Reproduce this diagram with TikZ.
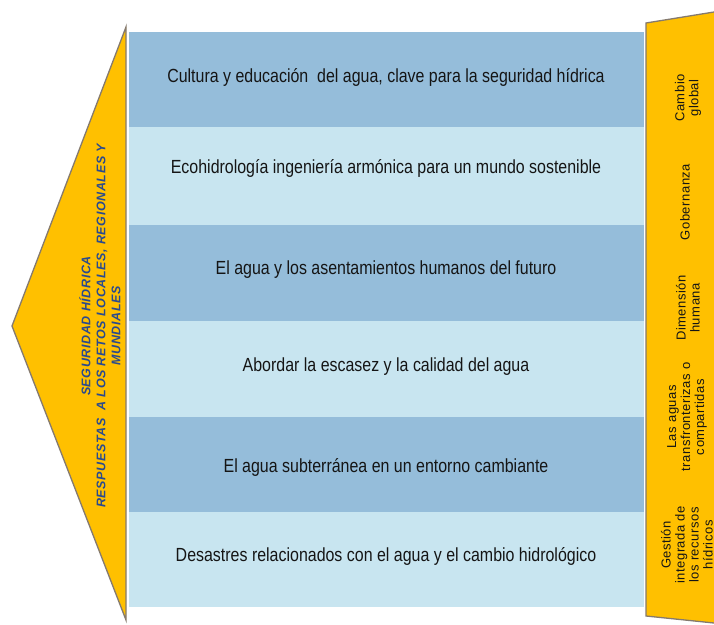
\documentclass[tikz,border=0pt]{standalone}
\usepackage{fontspec}
\setmainfont{Liberation Sans}
\newfontfamily\bandfont[FakeStretch=0.84]{Liberation Sans}
\newfontfamily\leftfont[LetterSpace=5]{Liberation Sans}
\newfontfamily\rightfont[LetterSpace=4]{Liberation Sans}
\definecolor{darkband}{HTML}{95BDDA}
\definecolor{lightband}{HTML}{C8E5F0}
\definecolor{gold}{HTML}{FFC000}
\definecolor{goldedge}{HTML}{857A6E}
\definecolor{leftblue}{HTML}{2A4A8E}
\definecolor{bandtext}{HTML}{151515}
\tikzset{
  bandbox/.style={draw=none, minimum width=515pt, minimum height=#1, inner sep=0pt, anchor=north west},
  bandlabel/.style={text=bandtext, font=\bandfont\fontsize{19}{21}\selectfont, inner sep=0pt},
  sidelabel/.style={text=bandtext, font=\rightfont\fontsize{13}{14}\selectfont, rotate=90, align=center, inner sep=0pt},
  leftlabel/.style={text=leftblue, font=\leftfont\bfseries\itshape\fontsize{12.5}{15}\selectfont, rotate=90, align=center, inner sep=0pt},
  goldshape/.style={fill=gold, draw=goldedge, line width=1.3pt, line join=miter}
}
\begin{document}
\begin{tikzpicture}[x=1pt,y=-1pt]
\useasboundingbox (0,0) rectangle (714,624);
\fill[white] (0,0) rectangle (714,624);
% bands
\node[bandbox=95pt, fill=darkband]  (b1) at (129,32)  {};
\node[bandbox=98pt, fill=lightband] (b2) at (129,127) {};
\node[bandbox=96pt, fill=darkband]  (b3) at (129,225) {};
\node[bandbox=96pt, fill=lightband] (b4) at (129,321) {};
\node[bandbox=95pt, fill=darkband]  (b5) at (129,417) {};
\node[bandbox=95pt, fill=lightband] (b6) at (129,512) {};
\node[bandlabel] (t1) at (386,77)  {Cultura y educación\ \ del agua, clave para la seguridad hídrica};
\node[bandlabel] (t2) at (386,168) {Ecohidrología ingeniería armónica para un mundo sostenible};
\node[bandlabel] (t3) at (386,270) {El agua y los asentamientos humanos del futuro};
\node[bandlabel] (t4) at (386,367) {Abordar la escasez y la calidad del agua};
\node[bandlabel] (t5) at (386,467) {El agua subterránea en un entorno cambiante};
\node[bandlabel] (t6) at (386,556) {Desastres relacionados con el agua y el cambio hidrológico};
% left arrow
\draw[goldshape] (126,27) -- (12,326) -- (126,620) -- cycle;
\node[leftlabel] (lt) at (100,326) {SEGURIDAD HÍDRICA\\RESPUESTAS\ \ A LOS RETOS LOCALES, REGIONALES Y\\MUNDIALES};
% right panel
\fill[gold] (646,23) -- (714,12) -- (714,623) -- (646,616) -- cycle;
\draw[goldedge, line width=1.3pt] (714,12) -- (646,23) -- (646,616) -- (714,623);
\node[sidelabel] (r1) at (688,98)  {Cambio\\global};
\node[sidelabel] (r2) at (685,202) {Gobernanza};
\node[sidelabel] (r3) at (688,308) {Dimensión\\humana};
\node[sidelabel] (r4) at (687,417) {Las aguas\\transfronterizas o\\compartidas};
\node[sidelabel] (r5) at (687,545) {Gestión\\integrada de\\los recursos\\hídricos};
\end{tikzpicture}
\end{document}
